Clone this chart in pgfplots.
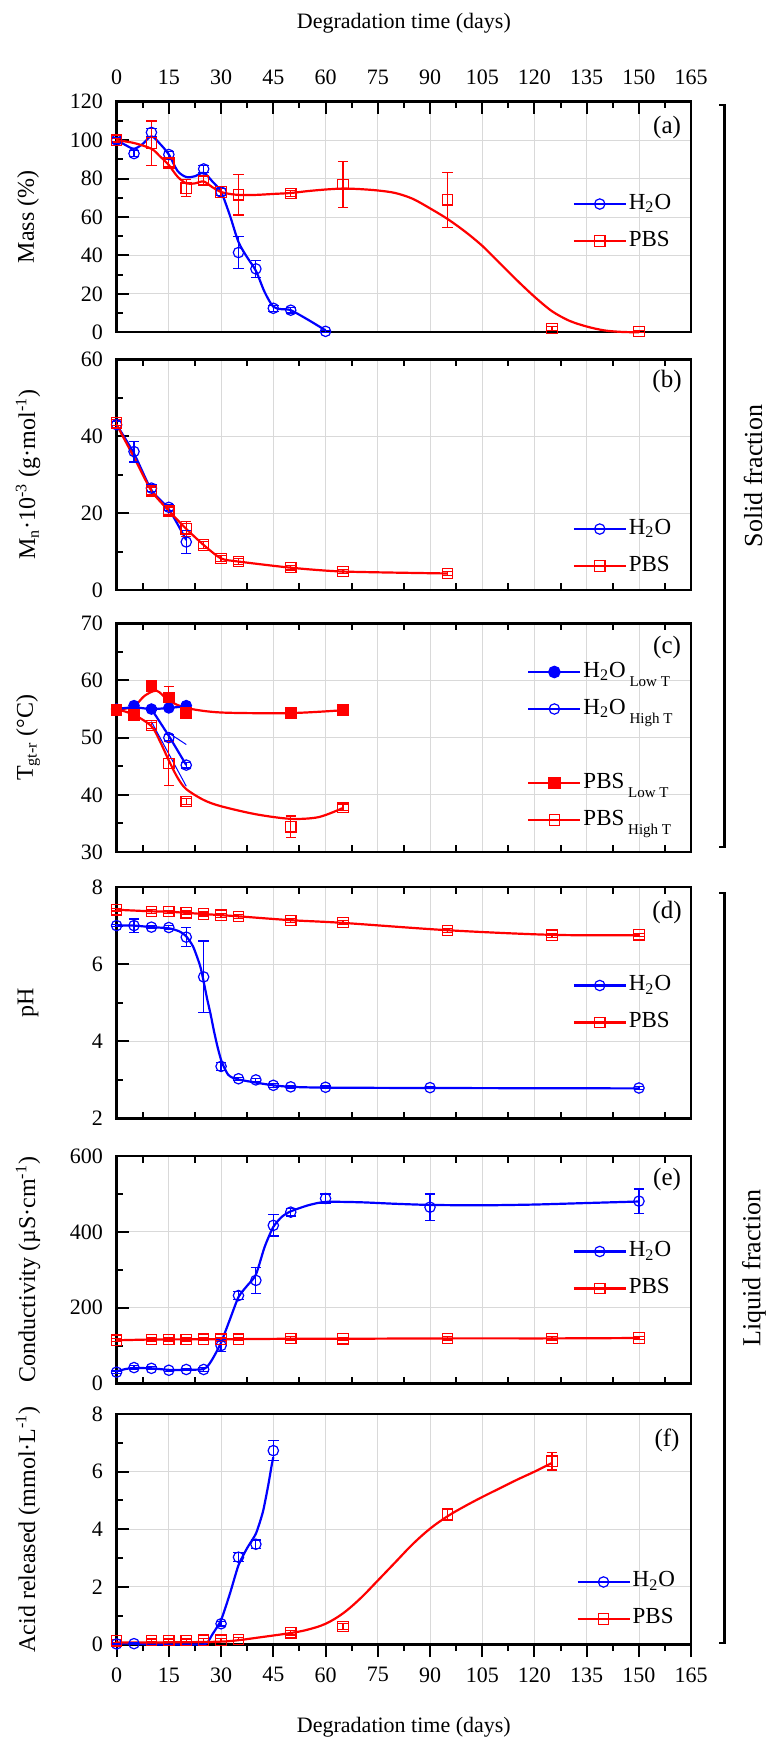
\documentclass[border=0pt]{standalone}
\usepackage{fontspec}
\setmainfont{Liberation Serif}
\usepackage{pgfplots}
\pgfplotsset{compat=1.18}
\definecolor{cb}{RGB}{0,0,255}
\definecolor{cr}{RGB}{255,0,0}
\tikzset{plab/.style={font=\fontsize{12.5}{14}\selectfont}}
\pgfplotsset{
  base/.style={
    width=287.3pt, scale only axis, anchor=north west,
    xmin=0, xmax=165, clip=false,
    xtick={0,15,...,165}, minor x tick num=1,
    xmajorgrids, ymajorgrids,
    major grid style={gray!30, line width=0.4pt},
    axis line style={line width=1.2pt},
    every tick/.style={black, line width=1pt},
    major tick length=6.3pt, minor tick length=3.3pt,
    ytick pos=left, tick align=inside,
    tick label style={font=\fontsize{11}{13}\selectfont},
    yticklabel style={xshift=-3.3pt},
    /pgf/number format/assume math mode=true,
    ylabel style={at={(axis description cs:-0.154,0.5)}, anchor=center, font=\fontsize{12}{14}\selectfont},
    legend cell align=left,
    legend style={draw=none, fill=none, inner sep=0pt, anchor=west,
      font=\fontsize{11.5}{13}\selectfont, row sep=5.5pt,
      nodes={inner sep=1pt, text height=8pt, text depth=3pt}},
    legend image code/.code={\draw[mark repeat=2,mark phase=2] plot coordinates {(0pt,0pt) (13pt,0pt) (26pt,0pt)};},
  },
  mid/.style={xmajorticks=false, xminorticks=false, xticklabels={}},
  lb/.style={cb, line width=1.1pt, mark=none, smooth, forget plot},
  lr/.style={cr, line width=1.1pt, mark=none, smooth, forget plot},
  eb/.style={only marks, forget plot, mark size=2.6pt, mark options={line width=0.6pt},
    error bars/y dir=both, error bars/y explicit,
    error bars/error bar style={line width=0.6pt},
    error bars/error mark options={rotate=90, mark size=2.6pt, line width=0.6pt}},
  mb/.style={eb, cb, mark=o},
  mr/.style={eb, cr, mark=square},
  ib/.style={cb, line width=1.1pt, mark=o, mark size=2.6pt, mark options={line width=0.6pt}},
  ir/.style={cr, line width=1.1pt, mark=square, mark size=2.6pt, mark options={line width=0.6pt}},
}
\begin{document}
\begin{tikzpicture}
\path[use as bounding box] (0,0) rectangle (384pt,-869pt);

% ---------------- (a) Mass
\begin{axis}[base, at={(58.3pt,-50.85pt)}, height=115.3pt,
  ymin=0, ymax=120, ytick={0,20,...,120}, minor y tick num=1,
  xtick pos=right, xticklabel pos=right, xticklabel style={yshift=5.2pt},
  xlabel={Degradation time (days)},
  xlabel style={at={(axis description cs:0.5,1.341)}, anchor=center, font=\fontsize{11}{13}\selectfont},
  ylabel={Mass (\%)},
  legend style={at={(axis description cs:0.793,0.476)}}]
\addlegendimage{ib}\addlegendentry{H\textsubscript{2}O}
\addlegendimage{ir}\addlegendentry{PBS}
\addplot[lb] coordinates {(0,100) (2.5,97.5) (5,95.5) (7.5,98) (10,102) (12.5,98) (15,92.5) (17.5,84) (20,80.8) (22.5,81.2) (25,83) (27.5,78.5) (30,73) (32.5,61) (35,47) (37.5,39) (40,32) (42.5,21) (45,13.3) (47.5,12) (50,11.5) (55,6.5) (60,1)};
\addplot[lr] coordinates {(0,100) (5,98.5) (10,95.5) (12.5,91.5) (15,87) (17.5,81) (20,77.5) (22.5,77.5) (25,78.5) (27.5,75.5) (30,73) (32.5,72) (35,71.5) (40,71.5) (45,72) (50,72.5) (55,73.5) (60,74.3) (65,74.8) (70,74.5) (75,73.8) (80,72.5) (85,69.5) (90,64.5) (95,59) (100,52.5) (105,45) (110,36) (115,27) (120,18.5) (125,11) (130,6) (135,3) (140,1) (145,0.2) (150,0)};
\addplot[mb] coordinates {(0,100) +- (0,1.5) (5,93) +- (0,1.5) (10,104) +- (0,2) (15,92.5) +- (0,1.5) (25,85) +- (0,2) (30,73) +- (0,2) (35,41.5) +- (0,8.5) (40,33) +- (0,4.5) (45,12.5) +- (0,1.5) (50,11.5) +- (0,1.5) (60,0.5) +- (0,0.5)};
\addplot[mr] coordinates {(0,100) +- (0,1) (10,98.5) +- (0,11.5) (15,88) +- (0,2) (20,75) +- (0,4.5) (25,79) +- (0,2) (30,73) +- (0,3) (35,71.5) +- (0,10.5) (50,72.3) +- (0,1.5) (65,77) +- (0,12) (95,69) +- (0,14.3) (125,2) +- (0,1) (150,0.5) +- (0,0.5)};
\node[plab] at (axis description cs:0.958,0.89) {(a)};
\end{axis}

% ---------------- (b) Mn
\begin{axis}[base, mid, at={(58.3pt,-179.65pt)}, height=115.35pt,
  ymin=0, ymax=60, ytick={0,20,40,60}, minor y tick num=1,
  ylabel={M\textsubscript{n}·10\textsuperscript{-3} (g·mol\textsuperscript{-1})},
  legend style={at={(axis description cs:0.793,0.184)}}]
\addlegendimage{ib}\addlegendentry{H\textsubscript{2}O}
\addlegendimage{ir}\addlegendentry{PBS}
\addplot[lb, tension=0.4] coordinates {(0,43) (5,35.5) (10,26) (15,21) (20,13)};
\addplot[lr, tension=0.4] coordinates {(0,43) (5,34.5) (10,25.8) (15,20.6) (20,15.9) (25,11.7) (30,8.2) (35,7.4) (50,5.8) (65,4.8) (95,4.3)};
\addplot[mb] coordinates {(0,43) +- (0,0.8) (5,36) +- (0,2.7) (10,26.5) +- (0,0.8) (15,21.5) +- (0,0.8) (20,12.5) +- (0,3)};
\addplot[mr] coordinates {(0,43.5) +- (0,0.8) (10,25.8) +- (0,1) (15,20.6) +- (0,1) (20,15.9) +- (0,2) (25,11.7) +- (0,1) (30,8.2) +- (0,0.8) (35,7.4) +- (0,0.8) (50,5.8) +- (0,0.6) (65,4.8) +- (0,0.6) (95,4.3) +- (0,0.6)};
\node[plab] at (axis description cs:0.958,0.905) {(b)};
\end{axis}

% ---------------- (c) Tg
\begin{axis}[base, mid, at={(58.3pt,-311.65pt)}, height=114.35pt,
  ymin=30, ymax=70, ytick={30,40,...,70}, minor y tick num=1,
  ylabel={T\textsubscript{gt-r} (°C)},
  legend style={at={(axis description cs:0.714,0.4635)}}]
\addlegendimage{cb, line width=1.1pt, mark=*, mark size=2.6pt}
\addlegendentry{H\textsubscript{2}O\,\raisebox{-4.5pt}{\fontsize{7.5}{8}\selectfont Low T}}
\addlegendimage{ib}
\addlegendentry{H\textsubscript{2}O\,\raisebox{-4.5pt}{\fontsize{7.5}{8}\selectfont High T}}
\addlegendimage{empty legend}\addlegendentry{}
\addlegendimage{cr, line width=1.1pt, mark=square*, mark size=2.6pt}
\addlegendentry{PBS\,\raisebox{-4.5pt}{\fontsize{7.5}{8}\selectfont Low T}}
\addlegendimage{ir}
\addlegendentry{PBS\,\raisebox{-4.5pt}{\fontsize{7.5}{8}\selectfont High T}}
\addplot[lr] coordinates {(0,55) (5,54) (10,52) (12.5,49.3) (15,46) (17.5,43) (20,41) (25,39.1) (30,38) (40,36.6) (50,35.8) (58,36.1) (65,37.7)};
\addplot[lr] coordinates {(0,54.8) (5,55.5) (8,57.3) (11.5,58.2) (15,56.5) (20,55.2) (30,54.4) (50,54.3) (65,54.8)};
\addplot[cb, line width=0.5pt, forget plot] coordinates {(10,52.8) (20,41.5)};
\addplot[cb, line width=0.5pt, forget plot] coordinates {(15,50.8) (20,48.8)};
\addplot[lb] coordinates {(0,55) (5,55.3) (10,55) (15,55.2) (20,55.5)};
\addplot[lb, tension=0.3] coordinates {(10,55) (15,50.3) (20,45.2)};
\addplot[mb] coordinates {(15,50) +- (0,0.5) (20,45.2) +- (0,0.5)};
\addplot[mb, mark=*] coordinates {(0,55) +- (0,0.3) (5,55.6) +- (0,0.3) (10,55) +- (0,0.3) (15,55.2) +- (0,0.3) (20,55.6) +- (0,0.3)};
\addplot[mr] coordinates {(10,52.1) +- (0,0.5) (15,45.5) +- (0,3.8) (20,38.8) +- (0,0.5) (50,34.4) +- (0,1.9) (65,37.8) +- (0,0.6)};
\addplot[mr, mark=square*] coordinates {(0,54.8) +- (0,0.3) (5,54) +- (0,0.3) (10,59) +- (0,0.5) (15,57) +- (0,2) (20,54.3) +- (0,0.5) (50,54.3) +- (0,0.4) (65,54.8) +- (0,0.5)};
\node[plab] at (axis description cs:0.958,0.895) {(c)};
\end{axis}

% ---------------- (d) pH
\begin{axis}[base, mid, at={(58.3pt,-443.5pt)}, height=115.75pt,
  ymin=2, ymax=8, ytick={2,4,6,8}, minor y tick num=1,
  ylabel={pH},
  legend style={at={(axis description cs:0.793,0.4946)}}]
\addlegendimage{ib}\addlegendentry{H\textsubscript{2}O}
\addlegendimage{ir}\addlegendentry{PBS}
\addplot[lb, tension=0.4] coordinates {(0,7.0) (5,7.0) (10,6.96) (15,6.93) (18,6.85) (20,6.72) (22,6.45) (24,5.95) (25,5.55) (26,5.1) (27,4.7) (28,4.25) (29,3.85) (30,3.52) (31,3.3) (32,3.14) (33,3.07) (35,3.01) (40,2.93) (45,2.86) (50,2.82) (60,2.8) (90,2.79) (150,2.78)};
\addplot[lr] coordinates {(0,7.41) (10,7.37) (15,7.36) (20,7.33) (25,7.3) (30,7.27) (35,7.24) (50,7.14) (65,7.07) (95,6.88) (125,6.76) (150,6.75)};
\addplot[mb] coordinates {(0,7.0) +- (0,0.03) (5,7.0) +- (0,0.17) (10,6.96) +- (0,0.04) (15,6.95) +- (0,0.05) (20,6.7) +- (0,0.25) (25,5.67) +- (0,0.93) (30,3.35) +- (0,0.1) (35,3.03) +- (0,0.04) (40,3.0) +- (0,0.04) (45,2.86) +- (0,0.05) (50,2.82) +- (0,0.03) (60,2.81) +- (0,0.03) (90,2.8) +- (0,0.03) (150,2.79) +- (0,0.03)};
\addplot[mr] coordinates {(0,7.41) +- (0,0.03) (10,7.37) +- (0,0.05) (15,7.36) +- (0,0.04) (20,7.33) +- (0,0.05) (25,7.3) +- (0,0.05) (30,7.27) +- (0,0.05) (35,7.24) +- (0,0.05) (50,7.13) +- (0,0.05) (65,7.08) +- (0,0.06) (95,6.87) +- (0,0.05) (125,6.75) +- (0,0.05) (150,6.76) +- (0,0.04)};
\node[plab] at (axis description cs:0.958,0.89) {(d)};
\end{axis}

% ---------------- (e) Conductivity
\begin{axis}[base, mid, at={(58.3pt,-578pt)}, height=113.75pt,
  ymin=0, ymax=600, ytick={0,200,400,600}, minor y tick num=1,
  ylabel={Conductivity (µS·cm\textsuperscript{-1})},
  legend style={at={(axis description cs:0.793,0.499)}}]
\addlegendimage{ib}\addlegendentry{H\textsubscript{2}O}
\addlegendimage{ir}\addlegendentry{PBS}
\addplot[lb, tension=0.4] coordinates {(0,32) (2.5,38) (5,41) (10,40) (15,36) (20,36) (25,38) (26.5,50) (28,72) (30,108) (32.5,168) (35,228) (37.5,258) (40,287) (42.5,360) (45,413) (47.5,440) (50,454) (55,470) (60,479) (70,478) (80,474) (90,471) (105,470) (120,472) (135,476) (150,480)};
\addplot[lr] coordinates {(0,114) (10,116) (20,116.5) (35,117) (50,118) (65,118) (95,119) (125,119) (150,120)};
\addplot[mb] coordinates {(0,30) +- (0,3) (5,42) +- (0,6) (10,40) +- (0,4) (15,35) +- (0,3) (20,37) +- (0,3) (25,37) +- (0,5) (30,100) +- (0,15) (35,232) +- (0,10) (40,272) +- (0,35) (45,417) +- (0,28) (50,452) +- (0,10) (60,488) +- (0,12) (90,465) +- (0,35) (150,481) +- (0,32)};
\addplot[mr] coordinates {(0,114) +- (0,4) (10,116) +- (0,4) (15,116) +- (0,4) (20,116) +- (0,4) (25,117) +- (0,4) (30,117) +- (0,5) (35,117) +- (0,4) (50,119) +- (0,5) (65,118) +- (0,4) (95,119) +- (0,4) (125,119) +- (0,4) (150,120) +- (0,4)};
\node[plab] at (axis description cs:0.958,0.895) {(e)};
\end{axis}

% ---------------- (f) Acid released
\begin{axis}[base, at={(58.3pt,-707pt)}, height=115.25pt,
  ymin=0, ymax=8, ytick={0,2,4,6,8}, minor y tick num=1,
  xtick pos=left, xtick align=outside, xticklabel style={yshift=-1.65pt},
  xlabel={Degradation time (days)},
  xlabel style={at={(axis description cs:0.5,-0.358)}, anchor=center, font=\fontsize{11}{13}\selectfont},
  ylabel={Acid released (mmol·L\textsuperscript{-1})},
  legend style={at={(axis description cs:0.7996,0.191)}}]
\addlegendimage{ib}\addlegendentry{H\textsubscript{2}O}
\addlegendimage{ir}\addlegendentry{PBS}
\addplot[lb, tension=0.4] coordinates {(0,0.03) (5,0.03) (10,0.0) (15,0) (20,0) (25,0) (26,0.05) (27.5,0.35) (30,0.85) (32.5,1.75) (35,2.75) (37.5,3.35) (40,3.85) (42,4.6) (43.5,5.5) (44.5,6.2) (45,6.5)};
\addplot[lr, tension=0.6] coordinates {(0,0.07) (10,0.07) (20,0.08) (30,0.1) (35,0.15) (40,0.23) (50,0.4) (55,0.52) (60,0.72) (65,1.08) (70,1.6) (75,2.22) (80,2.85) (85,3.48) (90,4.02) (95,4.45) (100,4.8) (105,5.12) (110,5.42) (115,5.72) (120,6.0) (125,6.3)};
\addplot[mb] coordinates {(0,0.02) +- (0,0.02) (5,0.03) +- (0,0.02) (30,0.72) +- (0,0.08) (35,3.03) +- (0,0.15) (40,3.48) +- (0,0.15) (45,6.73) +- (0,0.35)};
\addplot[mr] coordinates {(0,0.13) +- (0,0.05) (10,0.14) +- (0,0.05) (15,0.14) +- (0,0.05) (20,0.14) +- (0,0.05) (25,0.15) +- (0,0.05) (30,0.15) +- (0,0.05) (35,0.18) +- (0,0.05) (50,0.41) +- (0,0.08) (65,0.62) +- (0,0.1) (95,4.52) +- (0,0.2) (125,6.36) +- (0,0.3)};
\node[plab] at (axis description cs:0.958,0.887) {(f)};
\end{axis}

% brackets
\draw[line width=1.2pt] (359.5pt,-52.5pt) -- (362.25pt,-52.5pt) -- (362.25pt,-423.5pt) -- (359.5pt,-423.5pt);
\draw[line width=1.2pt] (359.5pt,-446.5pt) -- (362.25pt,-446.5pt) -- (362.25pt,-821.5pt) -- (359.5pt,-821.5pt);
\node[rotate=90, font=\fontsize{13}{15}\selectfont] at (376.5pt,-238pt) {Solid fraction};
\node[rotate=90, font=\fontsize{13}{15}\selectfont] at (377pt,-634pt) {Liquid fraction};
\end{tikzpicture}
\end{document}
